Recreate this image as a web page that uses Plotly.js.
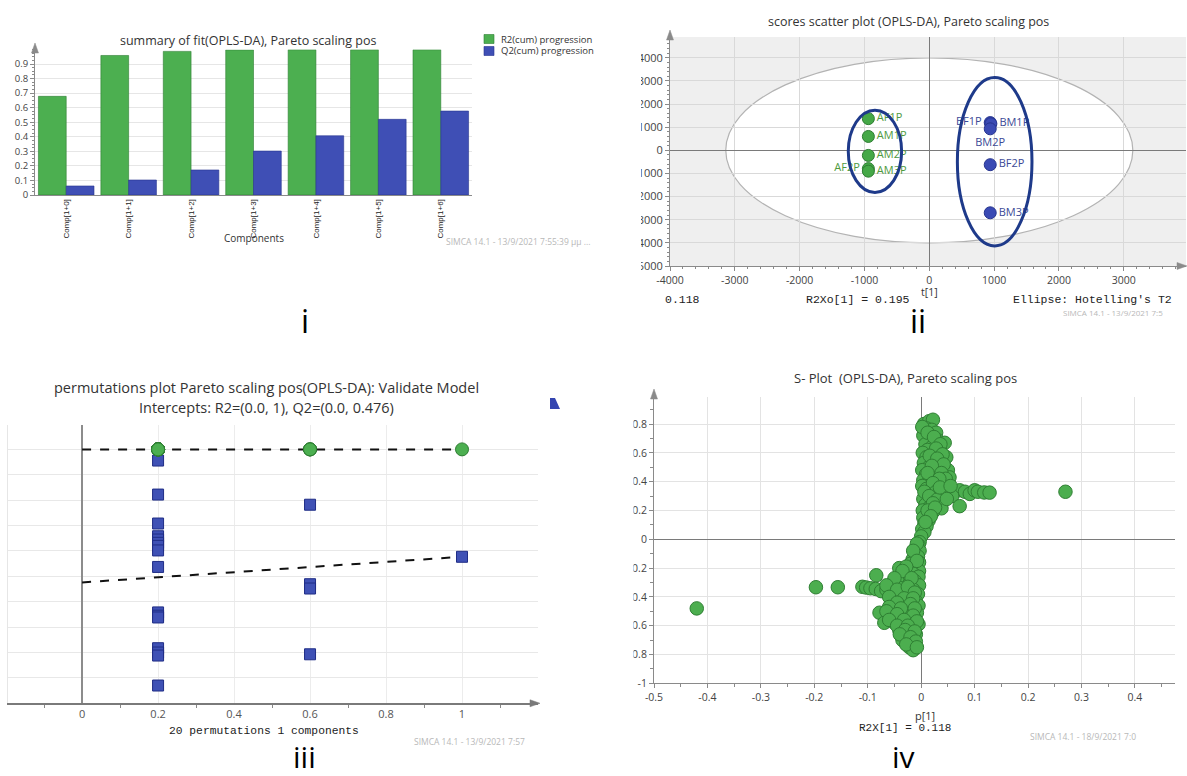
<!DOCTYPE html>
<html><head><meta charset="utf-8">
<script src="https://cdn.plot.ly/plotly-3.0.1.min.js"></script>
<style>html,body{margin:0;padding:0;background:#fff;}#chart{width:1187px;height:776px;}</style>
</head><body><div id="chart"></div>
<script>
// ---------- Panel i : summary of fit ----------
const components = ['Comp[1+0]','Comp[1+1]','Comp[1+2]','Comp[1+3]','Comp[1+4]','Comp[1+5]','Comp[1+6]'];
const r2cum = [0.678, 0.959, 0.987, 0.997, 0.998, 0.998, 0.998];
const q2cum = [0.062, 0.103, 0.172, 0.302, 0.407, 0.520, 0.577];
const fitTicks = [0,0.1,0.2,0.3,0.4,0.5,0.6,0.7,0.8,0.9];

// ---------- Panel ii : scores scatter ----------
const groupALabels = ['AF1P','AM1P','AM2P','AF2P','AM3P'];
const groupAt1 = [-940, -940, -940, -940, -940];
const groupAto1 = [1370, 600, -220, -790, -900];
const groupBLabels = ['BF1P','BM1P','BM2P','BF2P','BM3P'];
const groupBt1 = [940, 950, 940, 940, 940];
const groupBto1 = [1200, 1150, 930, -620, -2700];
const hotellingT2 = [3140, 4000];            // ellipse semi-axes (t[1], to[1])
const circleA = [-1250, -427, -1820, 1735];   // hand-drawn group ellipse bounds
const circleB = [433, 1584, -4130, 3150];
const scoreXTicks = [-4000,-3000,-2000,-1000,0,1000,2000,3000];
const scoreXText = ['-4000','-3000','-2000','-1000','0','1000','2000','3000'];
const scoreYTicks = [-5000,-4000,-3000,-2000,-1000,0,1000,2000,3000,4000];
const scoreYText = ['-5000','-4000','-3000','-2000','-1000','0','1000','2000','3000','4000'];

// ---------- Panel iii : permutations ----------
const permCorr = [0.2,0.2,0.2,0.2,0.2,0.2,0.2,0.2,0.2,0.2,0.2,0.2,0.2,0.2,0.2,0.2,0.6,0.6,0.6,0.6];
const permR2 = [1,1,1,1,1,1,1,1,1,1,1,1,1,1,1,1,1,1,1,1];
const permQ2 = [0.956,0.822,0.708,0.658,0.645,0.632,0.620,0.602,0.537,0.358,0.345,0.338,0.217,0.200,0.188,0.070,0.782,0.469,0.452,0.193];
const modelCorr = [1];
const modelR2 = [1];
const modelQ2 = [0.577];
const r2Intercept = [0.0, 1];
const q2Intercept = [0.0, 0.476];
const permXTicks = [0,0.2,0.4,0.6,0.8,1];
const permXText = ['0','0.2','0.4','0.6','0.8','1'];

// ---------- Panel iv : S-plot ----------
const sP1 = [0.005,0.015,0.022,0.010,0.020,0.028,0.004,0.018,0.030,0.044,
  0.008,0.020,0.012,0.035,0.003,0.025,0.047,0.010,0.018,0.038,
  0.005,0.028,0.014,0.034,0.050,0.002,0.022,0.009,0.030,0.053,
  0.016,0.004,0.026,0.040,0.012,0.030,0.002,0.020,0.045,0.010,
  0.050,0.062,0.072,0.082,0.091,0.100,0.106,0.118,0.128,0.035,
  0.058,0.072,0.012,0.025,0.004,0.040,0.018,0.008,0.030,0.038,
  0.015,0.003,0.022,0.010,0.004,0.014,0.006,0.010,0.002,0.006,
  0.000,0.270,
  0.002,0.012,0.024,0.036,0.028,0.040,0.016,0.030,0.042,0.020,
  0.012,0.038,0.046,0.034,0.022,0.006,0.028,0.040,0.015,0.030,
  0.048,0.022,0.012,0.026,0.018,0.008,0.035,0.055,
  -0.003,-0.005,-0.010,-0.003,-0.012,-0.006,-0.016,-0.004,-0.020,-0.010,
  -0.041,-0.025,-0.004,-0.015,-0.084,-0.035,-0.005,-0.028,-0.045,-0.012,
  -0.022,-0.055,-0.004,-0.197,-0.156,-0.110,-0.103,-0.095,-0.085,-0.075,
  -0.065,-0.038,-0.015,-0.030,-0.006,-0.050,-0.022,-0.056,-0.040,-0.010,
  -0.030,-0.005,-0.048,-0.020,-0.035,-0.078,-0.008,-0.055,-0.025,-0.042,
  -0.012,-0.022,-0.069,-0.050,-0.005,-0.035,-0.015,-0.041,-0.025,-0.010,
  -0.028,-0.035,-0.018,-0.022,-0.015,-0.420,
  -0.008,-0.015,-0.008,-0.028,-0.035,-0.050,-0.018,-0.065,-0.045,-0.025,
  -0.012,-0.060,-0.032,-0.015,-0.045,-0.020,-0.060,-0.038,-0.012,-0.065,
  -0.045,-0.015,-0.032,-0.060,-0.008,-0.045,-0.025,-0.030,-0.012,-0.040,
  -0.020,-0.010,-0.028,-0.008];
const sPcorr = [0.80,0.82,0.83,0.77,0.76,0.74,0.72,0.70,0.69,0.67,
  0.66,0.64,0.62,0.62,0.60,0.60,0.57,0.57,0.55,0.54,
  0.53,0.52,0.50,0.50,0.48,0.48,0.47,0.45,0.45,0.43,
  0.43,0.41,0.41,0.40,0.39,0.38,0.37,0.36,0.35,0.35,
  0.33,0.33,0.34,0.33,0.315,0.34,0.33,0.325,0.324,0.31,
  0.30,0.23,0.31,0.29,0.28,0.27,0.26,0.24,0.24,0.215,
  0.22,0.20,0.19,0.17,0.15,0.13,0.11,0.09,0.07,0.05,
  0.02,0.33,
  0.78,0.74,0.71,0.66,0.63,0.59,0.58,0.56,0.52,0.51,
  0.46,0.46,0.42,0.42,0.39,0.33,0.33,0.32,0.30,0.275,
  0.28,0.25,0.20,0.22,0.16,0.12,0.36,0.37,
  -0.02,-0.04,-0.06,-0.08,-0.10,-0.12,-0.14,-0.16,-0.17,-0.19,
  -0.20,-0.21,-0.22,-0.24,-0.25,-0.25,-0.26,-0.27,-0.28,-0.29,
  -0.31,-0.31,-0.32,-0.333,-0.333,-0.33,-0.335,-0.34,-0.345,-0.36,
  -0.35,-0.34,-0.35,-0.37,-0.38,-0.39,-0.40,-0.42,-0.43,-0.43,
  -0.45,-0.46,-0.47,-0.48,-0.50,-0.51,-0.51,-0.52,-0.53,-0.55,
  -0.55,-0.57,-0.58,-0.58,-0.59,-0.60,-0.62,-0.63,-0.65,-0.66,
  -0.68,-0.70,-0.72,-0.75,-0.77,-0.48,
  -0.03,-0.08,-0.15,-0.19,-0.22,-0.27,-0.27,-0.32,-0.35,-0.33,
  -0.37,-0.40,-0.41,-0.41,-0.44,-0.45,-0.47,-0.48,-0.48,-0.50,
  -0.52,-0.53,-0.56,-0.56,-0.57,-0.60,-0.60,-0.63,-0.64,-0.66,
  -0.68,-0.71,-0.73,-0.75];
const sXTicks = [-0.5,-0.4,-0.3,-0.2,-0.1,0,0.1,0.2,0.3,0.4];
const sXText = ['-0.5','-0.4','-0.3','-0.2','-0.1','0','0.1','0.2','0.3','0.4'];
const sYTicks = [-1,-0.8,-0.6,-0.4,-0.2,0,0.2,0.4,0.6,0.8];
const sYText = ['-1','-0.8','-0.6','-0.4','-0.2','0','0.2','0.4','0.6','0.8'];

// ---------- layout helpers (pixel -> paper) ----------
const W = 1187, H = 776;
const px = v => v / W;
const py = v => 1 - v / H;
const dX = (a, b) => [a / W, b / W];
const dY = (top, bottom) => [1 - bottom / H, 1 - top / H];

const GREEN = '#4caf50', GREEN_D = '#2e7d32';
const BLUE = '#3f4fb5', BLUE_D = '#26348f';
const AX = '#8a8a8a';
const SANS = 'Open Sans, Noto Sans, sans-serif';
const MONO = 'Liberation Mono, DejaVu Sans Mono, monospace';

const traces = [
  {type:'bar', x:components, y:r2cum, xaxis:'x', yaxis:'y', name:'R2(cum) progression',
   marker:{color:GREEN, line:{color:GREEN_D, width:0.6}}},
  {type:'bar', x:components, y:q2cum, xaxis:'x', yaxis:'y', name:'Q2(cum) progression',
   marker:{color:BLUE, line:{color:BLUE_D, width:0.6}}},

  {type:'scatter', mode:'markers+text', x:groupAt1, y:groupAto1, text:groupALabels, xaxis:'x2', yaxis:'y2',
   textposition:['middle right','middle right','middle right','middle left','middle right'],
   textfont:{family:SANS, size:11, color:'#4e9a3e'}, cliponaxis:false,
   marker:{size:12, color:'#45a847', line:{color:'#2e7d32', width:1}}},
  {type:'scatter', mode:'markers+text', x:groupBt1, y:groupBto1, text:groupBLabels, xaxis:'x2', yaxis:'y2',
   textposition:['middle left','middle right','bottom center','middle right','middle right'],
   textfont:{family:SANS, size:11, color:'#3c4a96'}, cliponaxis:false,
   marker:{size:12, color:'#3a4ab4', line:{color:'#26348f', width:1}}},

  {type:'scatter', mode:'lines', x:[r2Intercept[0], modelCorr[0]], y:[r2Intercept[1], modelR2[0]], xaxis:'x3', yaxis:'y3',
   line:{color:'#111', width:2, dash:'dash'}},
  {type:'scatter', mode:'lines', x:[q2Intercept[0], modelCorr[0]], y:[q2Intercept[1], modelQ2[0]], xaxis:'x3', yaxis:'y3',
   line:{color:'#111', width:2, dash:'dash'}},
  {type:'scatter', mode:'markers', x:permCorr.concat(modelCorr), y:permQ2.concat(modelQ2), xaxis:'x3', yaxis:'y3',
   marker:{symbol:'square', size:11, color:'#3f51b5', line:{color:'#1f2d86', width:1}}},
  {type:'scatter', mode:'markers', x:permCorr.concat(modelCorr), y:permR2.concat(modelR2), xaxis:'x3', yaxis:'y3',
   marker:{symbol:'circle', size:13, color:'#4caf50', line:{color:'#2e7d32', width:1}}},

  {type:'scatter', mode:'markers', x:sP1, y:sPcorr, xaxis:'x4', yaxis:'y4', cliponaxis:false,
   marker:{size:13.5, color:'#4cae4f', line:{color:'#2f7f33', width:1}}}
];

const tickFont = {family:SANS, size:10.5, color:'#444'};

const layout = {
  width:W, height:H, margin:{l:0,r:0,t:0,b:0}, showlegend:false,
  paper_bgcolor:'#fff', plot_bgcolor:'rgba(0,0,0,0)',
  font:{family:SANS, color:'#444'},
  barmode:'group', bargap:0.11, bargroupgap:0,
  // Panel i
  xaxis:{domain:dX(35,472), anchor:'y', type:'category', tickangle:-90, tickfont:{family:'Liberation Sans, Arial, sans-serif', size:8, color:'#222'},
         showgrid:false, showline:true, linecolor:AX, ticks:'', zeroline:false},
  yaxis:{domain:dY(49.5,195), anchor:'x', range:[0,1.0], tickmode:'array', tickvals:fitTicks, tickfont:{family:SANS, size:9.5, color:'#444'},
         showgrid:true, gridcolor:'#e6e6e6', showline:true, linecolor:AX, ticks:'outside', ticklen:4, tickcolor:AX,
         minor:{tickmode:'linear', tick0:0, dtick:0.025, ticks:'outside', ticklen:2, tickcolor:AX, showgrid:false},
         zeroline:false},
  // Panel ii
  xaxis2:{domain:dX(670,1186), anchor:'y2', range:[-4000,3960], tickmode:'array', tickvals:scoreXTicks, ticktext:scoreXText,
          tickfont:tickFont, showgrid:true, gridcolor:'#d9d9d9', zeroline:true, zerolinecolor:'#7a7a7a', zerolinewidth:1,
          showline:true, linecolor:AX, ticks:'outside', ticklen:4, tickcolor:AX,
          minor:{tickmode:'linear', tick0:0, dtick:200, ticks:'outside', ticklen:2, tickcolor:AX, showgrid:false}},
  yaxis2:{domain:dY(37,266), anchor:'x2', range:[-5000,4900], tickmode:'array', tickvals:scoreYTicks, ticktext:scoreYText,
          tickfont:{family:SANS, size:11, color:'#444'}, showgrid:true, gridcolor:'#d9d9d9', zeroline:true, zerolinecolor:'#7a7a7a', zerolinewidth:1,
          showline:true, linecolor:AX, ticks:'outside', ticklen:4, tickcolor:AX,
          minor:{tickmode:'linear', tick0:0, dtick:200, ticks:'outside', ticklen:2, tickcolor:AX, showgrid:false}},
  // Panel iii
  xaxis3:{domain:dX(8,538), anchor:'y3', range:[-0.195,1.2], tickmode:'array', tickvals:permXTicks, ticktext:permXText,
          tickfont:{family:SANS, size:11, color:'#555'}, showgrid:true, gridcolor:'#ececec', zeroline:true, zerolinecolor:'#8c8c8c', zerolinewidth:1.2,
          showline:true, linecolor:'#7a7a7a', linewidth:1.2, ticks:'',
          minor:{tickmode:'linear', tick0:0.1, dtick:0.2, ticks:'outside', ticklen:3, tickcolor:'#888', showgrid:false}},
  yaxis3:{domain:dY(425,703.3), anchor:'x3', range:[0,1.096], tickmode:'linear', tick0:0, dtick:0.1, showticklabels:false,
          showgrid:true, gridcolor:'#e8e8e8', zeroline:false, showline:true, linecolor:'#e6e6e6', ticks:''},
  // Panel iv
  xaxis4:{domain:dX(654,1175), anchor:'y4', range:[-0.5,0.475], tickmode:'array', tickvals:sXTicks, ticktext:sXText,
          tickfont:{family:SANS, size:10.5, color:'#444'}, showgrid:true, gridcolor:'#e3e3e3', zeroline:true, zerolinecolor:'#7a7a7a', zerolinewidth:1,
          showline:true, linecolor:AX, ticks:'outside', ticklen:4, tickcolor:AX,
          minor:{tickmode:'linear', tick0:0.05, dtick:0.1, ticks:'outside', ticklen:3, tickcolor:AX, showgrid:false}},
  yaxis4:{domain:dY(396.7,683.3), anchor:'x4', range:[-1,0.99], tickmode:'array', tickvals:sYTicks, ticktext:sYText,
          tickfont:{family:SANS, size:10.5, color:'#444'}, showgrid:true, gridcolor:'#e3e3e3', zeroline:true, zerolinecolor:'#7a7a7a', zerolinewidth:1,
          showline:true, linecolor:AX, ticks:'outside', ticklen:4, tickcolor:AX,
          minor:{tickmode:'linear', tick0:0.1, dtick:0.2, ticks:'outside', ticklen:3, tickcolor:AX, showgrid:false}},
  shapes:[], annotations:[]
};

// panel ii background + Hotelling ellipse (below gridlines)
layout.shapes.push({type:'rect', xref:'x2 domain', yref:'y2 domain', x0:0, x1:1, y0:0, y1:1, layer:'below',
  fillcolor:'#efefef', line:{width:0}});
layout.shapes.push({type:'circle', xref:'x2', yref:'y2', x0:-hotellingT2[0], x1:hotellingT2[0], y0:-hotellingT2[1], y1:hotellingT2[1],
  layer:'below', fillcolor:'#ffffff', line:{color:'#b3b3b3', width:1.2}});
// hand-drawn group circles
[circleA, circleB].forEach(c => layout.shapes.push({type:'circle', xref:'x2', yref:'y2', x0:c[0], x1:c[1], y0:c[2], y1:c[3],
  layer:'above', line:{color:'#1e3a8a', width:3}}));

// arrows on axes
function tri(pts, color){
  const p = pts.map((q,i)=> (i?'L':'M') + px(q[0]).toFixed(5) + ',' + py(q[1]).toFixed(5)).join(' ') + ' Z';
  layout.shapes.push({type:'path', xref:'paper', yref:'paper', path:p, fillcolor:color, line:{color:color, width:0.5}, layer:'above'});
}
tri([[35,43],[31.5,53],[38.5,53]], AX);          // panel i y
tri([[670,30],[666.5,40],[673.5,40]], AX);       // panel ii y
tri([[1187,266],[1177,262.5],[1177,269.5]], AX); // panel ii x
tri([[540,703.3],[530,699.8],[530,706.8]], '#7a7a7a'); // panel iii x
tri([[654,389],[650.5,399],[657.5,399]], AX);    // panel iv y
// cropped legend fragment (panel iii, top right)
layout.shapes.push({type:'path', xref:'paper', yref:'paper',
  path:'M'+px(550)+','+py(398)+' L'+px(555)+','+py(398)+' L'+px(560)+','+py(409)+' L'+px(550)+','+py(409)+' Z',
  fillcolor:'#3445b0', line:{width:0}, layer:'above'});
// legend for panel i
layout.shapes.push({type:'rect', xref:'paper', yref:'paper', x0:px(484), x1:px(494), y0:py(43.5), y1:py(34.5), fillcolor:GREEN, line:{color:GREEN_D, width:0.6}});
layout.shapes.push({type:'rect', xref:'paper', yref:'paper', x0:px(484), x1:px(494), y0:py(55.5), y1:py(46.5), fillcolor:BLUE, line:{color:BLUE_D, width:0.6}});
// white masks where the screenshots were cropped
layout.shapes.push({type:'rect', xref:'paper', yref:'paper', x0:px(605), x1:px(641), y0:py(272), y1:py(45), fillcolor:'#fff', line:{width:0}, layer:'above'});
layout.shapes.push({type:'rect', xref:'paper', yref:'paper', x0:px(600), x1:px(633.5), y0:py(692), y1:py(405), fillcolor:'#fff', line:{width:0}, layer:'above'});

function ann(text, x, y, size, opts){
  layout.annotations.push(Object.assign({text:text, xref:'paper', yref:'paper', x:px(x), y:py(y), showarrow:false,
    xanchor:'center', yanchor:'middle', font:{family:SANS, size:size, color:'#333'}}, opts||{}));
}
// panel i
ann('summary of fit(OPLS-DA), Pareto scaling pos', 248, 40, 12.5);
ann('R2(cum) progression', 499, 39, 9.5, {xanchor:'left'});
ann('Q2(cum) progression', 499, 51, 9.5, {xanchor:'left'});
ann('Components', 254, 238, 10);
ann('SIMCA 14.1 - 13/9/2021 7:55:39 μμ ...', 518, 241, 8.5, {font:{family:SANS, size:8.5, color:'#b8b8b8'}});
// panel ii
ann('scores scatter plot (OPLS-DA), Pareto scaling pos', 908, 21, 12.5);
ann('t[1]', 929, 292, 10.5);
ann('0.118', 682, 300, 11, {font:{family:MONO, size:11.5, color:'#222'}});
ann('R2Xo[1] = 0.195', 858, 300, 11, {font:{family:MONO, size:11.5, color:'#222'}});
ann("Ellipse: Hotelling's T2", 1092, 299, 11, {font:{family:MONO, size:11.5, color:'#222'}});
ann('SIMCA 14.1 - 13/9/2021 7:5', 1113, 312, 8, {font:{family:SANS, size:8, color:'#b8b8b8'}});
// panel iii
ann('permutations plot Pareto scaling pos(OPLS-DA): Validate Model', 266, 387, 14.5);
ann('Intercepts: R2=(0.0, 1), Q2=(0.0, 0.476)', 266, 407, 14.5);
ann('20 permutations 1 components', 264, 731, 11, {font:{family:MONO, size:11.3, color:'#222'}});
ann('SIMCA 14.1 - 13/9/2021 7:57', 469, 741, 8.5, {font:{family:SANS, size:8.5, color:'#b8b8b8'}});
// panel iv
ann('S- Plot  (OPLS-DA), Pareto scaling pos', 905, 378, 13);
ann('p[1]', 925, 715, 11);
ann('R2X[1] = 0.118', 905, 728, 11, {font:{family:MONO, size:11, color:'#222'}});
ann('SIMCA 14.1 - 18/9/2021 7:0', 1083, 736, 8.5, {font:{family:SANS, size:8.5, color:'#b8b8b8'}});
// captions
ann('i', 305, 320, 32, {font:{family:SANS, size:32, color:'#000'}});
ann('ii', 918, 320, 32, {font:{family:SANS, size:32, color:'#000'}});
ann('iii', 305, 756, 30, {font:{family:SANS, size:30, color:'#000'}});
ann('iv', 903, 756, 30, {font:{family:SANS, size:30, color:'#000'}});

Plotly.newPlot('chart', traces, layout, {staticPlot:true, displayModeBar:false});
</script>
</body></html>
